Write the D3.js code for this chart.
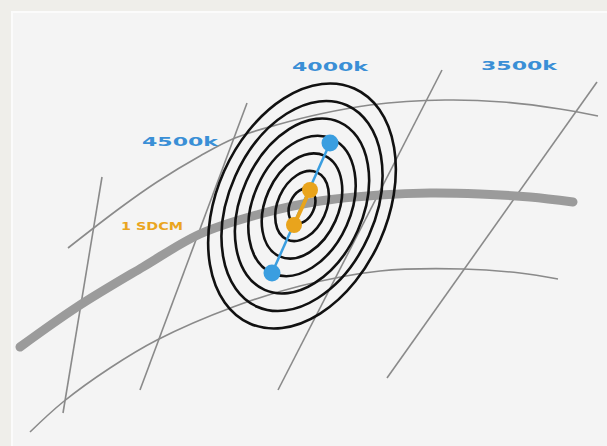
<!DOCTYPE html>
<html><head><meta charset="utf-8">
<script src="https://cdn.jsdelivr.net/npm/d3@7"></script>
<style>html,body{margin:0;padding:0;background:#efeeea;}svg{display:block;}</style>
</head><body>
<div id="chart"></div>
<script>
// ---- data (diagram units) ----
const locus = [[20,347],[77,307],[143,267],[200,234],[260,214],[320,201],[380,195],[430,193],[480,194],[530,197],[573,202]];
const duvUpper = [[68,248],[120,208],[157,182],[200,156],[235,138],[280,124],[320,114],[370,105],[445,100],[503,102],[560,109],[598,116]];
const duvLower = [[30,432],[63,402],[110,368],[157,340],[233,307],[300,286],[380,271],[463,269],[520,273],[558,279]];
const isotherms = [
  {cct:"", p:[[102,177],[63,413]]},
  {cct:"4500k", p:[[247,103],[140,390]]},
  {cct:"4000k", p:[[442,70],[278,390]]},
  {cct:"3500k", p:[[597,82],[387,378]]}
];
const cctLabels = ["4500k","4000k","3500k"];
const cctLabelPos = [[180,146],[330,71],[519,70]];
const sdcmSteps = [1,2,3,4,5,6,7];
const ellipseCenter = [302,206];
const ellipseTilt = 24;            // degrees from vertical
const stepMajor = [1,7], majorRange = [18.4,128.6], minorRange=[12.2,85.3];
const blueDots = [[330,143],[272,273]];     // 4-step pair
const orangeDots = [[310,190],[294,225]];   // 1-step pair
const sdcmLabel = "1 SDCM";
const sdcmLabelPos = [152,230];

// ---- scales ----
const W=607,H=446;
const x = d3.scaleLinear().domain([0,607]).range([0,W]);
const y = d3.scaleLinear().domain([0,446]).range([0,H]);
const aScale = d3.scaleLinear().domain(stepMajor).range(majorRange);
const bScale = d3.scaleLinear().domain(stepMajor).range(minorRange);

const svg = d3.select("#chart").append("svg").attr("width",W).attr("height",H);
svg.append("rect").attr("width",W).attr("height",H).attr("fill","#efeeea");
svg.append("rect").attr("x",12).attr("y",12).attr("width",W-11).attr("height",H-11)
  .attr("fill","#f4f4f4").attr("stroke","#fbfbfb").attr("stroke-width",2);

const line = d3.line().x(d=>x(d[0])).y(d=>y(d[1])).curve(d3.curveCatmullRom.alpha(0.5));
const straight = d3.line().x(d=>x(d[0])).y(d=>y(d[1]));

// thin duv curves
[duvUpper,duvLower].forEach(c=>{
  svg.append("path").attr("d",line(c)).attr("fill","none").attr("stroke","#8a8a8a").attr("stroke-width",1.6);
});
// isotherms
svg.selectAll("path.iso").data(isotherms).enter().append("path").attr("class","iso")
  .attr("d",d=>straight(d.p)).attr("fill","none").attr("stroke","#8a8a8a").attr("stroke-width",1.6);
// planckian locus
svg.append("path").attr("d",line(locus)).attr("fill","none").attr("stroke","#9b9b9b")
  .attr("stroke-width",9).attr("stroke-linecap","round");

// ellipses
const cx=x(ellipseCenter[0]), cy=y(ellipseCenter[1]);
svg.append("g").attr("transform",`translate(${cx},${cy}) rotate(${ellipseTilt})`)
  .selectAll("ellipse").data(sdcmSteps).enter().append("ellipse")
  .attr("rx",d=>bScale(d)).attr("ry",d=>aScale(d))
  .attr("fill","none").attr("stroke","#111").attr("stroke-width",2.6);

// blue pair
svg.append("path").attr("d",straight(blueDots)).attr("stroke","#3a9ee0").attr("stroke-width",2.5).attr("fill","none");
svg.selectAll("circle.b").data(blueDots).enter().append("circle").attr("class","b")
  .attr("cx",d=>x(d[0])).attr("cy",d=>y(d[1])).attr("r",8.5).attr("fill","#3a9ee0");
// orange pair
svg.append("path").attr("d",straight(orangeDots)).attr("stroke","#e9a41c").attr("stroke-width",4).attr("fill","none");
svg.selectAll("circle.o").data(orangeDots).enter().append("circle").attr("class","o")
  .attr("cx",d=>x(d[0])).attr("cy",d=>y(d[1])).attr("r",8).attr("fill","#e9a41c");

// labels
svg.selectAll("text.cct").data(cctLabels).enter().append("text").attr("class","cct")
  .attr("x",(d,i)=>x(cctLabelPos[i][0])).attr("y",(d,i)=>y(cctLabelPos[i][1]))
  .attr("text-anchor","middle").attr("font-family","DejaVu Sans").attr("font-weight","bold")
  .attr("font-size",13).attr("fill","#3a8fd6")
  .attr("textLength",76).attr("lengthAdjust","spacingAndGlyphs").text(d=>d);
svg.append("text").attr("x",x(sdcmLabelPos[0])).attr("y",y(sdcmLabelPos[1]))
  .attr("text-anchor","middle").attr("font-family","DejaVu Sans").attr("font-weight","bold")
  .attr("font-size",10).attr("fill","#eaa51e")
  .attr("textLength",62).attr("lengthAdjust","spacingAndGlyphs").text(sdcmLabel);
</script>
</body></html>
